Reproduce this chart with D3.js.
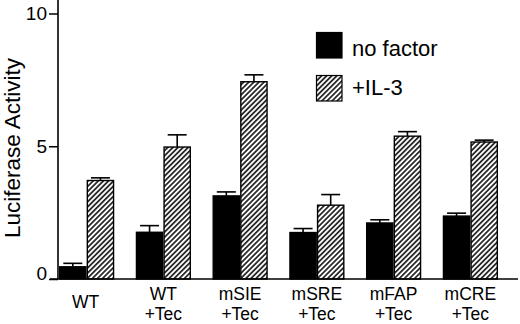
<!DOCTYPE html>
<html><head><meta charset="utf-8">
<script src="https://cdn.jsdelivr.net/npm/d3@7"></script>
<style>
html,body{margin:0;padding:0;background:#fff;}
svg{display:block;font-family:"Liberation Sans",Arial,Helvetica,sans-serif;}
</style></head>
<body>
<svg id="chart" width="520" height="324"></svg>
<script>
const categories = ["WT", "WT+Tec", "mSIE+Tec", "mSRE+Tec", "mFAP+Tec", "mCRE+Tec"];
const categoryLines = [["WT"], ["WT", "+Tec"], ["mSIE", "+Tec"], ["mSRE", "+Tec"], ["mFAP", "+Tec"], ["mCRE", "+Tec"]];
const seriesNames = ["no factor", "+IL-3"];
const noFactor = [0.46, 1.76, 3.13, 1.75, 2.11, 2.37];
const noFactorErr = [0.13, 0.25, 0.15, 0.15, 0.12, 0.11];
const il3 = [3.71, 4.97, 7.43, 2.78, 5.38, 5.16];
const il3Err = [0.10, 0.46, 0.26, 0.40, 0.17, 0.07];
const yTicks = [0, 5, 10];

const svg = d3.select("#chart");
const defs = svg.append("defs");
const pat = defs.append("pattern").attr("id", "hatch")
  .attr("patternUnits", "userSpaceOnUse").attr("width", 3.6).attr("height", 3.6)
  .attr("patternTransform", "rotate(45)");
pat.append("rect").attr("width", 3.6).attr("height", 3.6).attr("fill", "#fff");
pat.append("line").attr("x1", 0.9).attr("y1", 0).attr("x2", 0.9).attr("y2", 3.6)
  .attr("stroke", "#000").attr("stroke-width", 1.5);

const y = d3.scaleLinear().domain([0, 10]).range([279, 13.5]);
const x0 = d3.scaleBand().domain(categories).range([59, 498]).paddingInner(0.28).paddingOuter(0);
const x1 = d3.scaleBand().domain(seriesNames).range([0, x0.bandwidth()]);

const rows = categories.map((c, i) => ({
  cat: c,
  vals: [
    {s: seriesNames[0], v: noFactor[i], e: noFactorErr[i]},
    {s: seriesNames[1], v: il3[i], e: il3Err[i]}
  ]
}));
const fills = {"no factor": "#000", "+IL-3": "url(#hatch)"};

const g = svg.selectAll("g.grp").data(rows).join("g").attr("class", "grp")
  .attr("transform", d => `translate(${x0(d.cat)},0)`);
const eb = g.selectAll("g.err").data(d => d.vals).join("g").attr("class", "err");
eb.append("line")
  .attr("x1", d => x1(d.s) + x1.bandwidth() / 2).attr("x2", d => x1(d.s) + x1.bandwidth() / 2)
  .attr("y1", d => y(d.v)).attr("y2", d => y(d.v + d.e))
  .attr("stroke", "#000").attr("stroke-width", 1.6);
eb.append("line")
  .attr("x1", d => x1(d.s) + x1.bandwidth() / 2 - 9.5).attr("x2", d => x1(d.s) + x1.bandwidth() / 2 + 9.5)
  .attr("y1", d => y(d.v + d.e)).attr("y2", d => y(d.v + d.e))
  .attr("stroke", "#000").attr("stroke-width", 1.6);

g.selectAll("rect.bar").data(d => d.vals).join("rect").attr("class", "bar")
  .attr("x", d => x1(d.s) + 0.7).attr("width", x1.bandwidth() - 1.4)
  .attr("y", d => y(d.v)).attr("height", d => y(0) - y(d.v))
  .attr("fill", d => fills[d.s]).attr("stroke", "#000").attr("stroke-width", 1.4);

svg.append("line").attr("x1", 50).attr("x2", 518).attr("y1", y(0)).attr("y2", y(0))
  .attr("stroke", "#000").attr("stroke-width", 1.6);
const yAxis = svg.append("g").attr("transform", "translate(58,0)")
  .call(d3.axisLeft(y).tickValues(yTicks).tickSize(9).tickPadding(2).tickSizeOuter(0));
yAxis.select(".domain").remove();
yAxis.append("line").attr("x1", 0).attr("x2", 0).attr("y1", 0).attr("y2", y(0))
  .attr("stroke", "#000").attr("stroke-width", 1.6);
yAxis.selectAll(".tick line").attr("stroke-width", 1.5);
yAxis.selectAll(".tick text").attr("font-size", 19).attr("fill", "#000")
  .attr("font-family", "'Liberation Sans',Arial,sans-serif");
yAxis.selectAll(".tick").filter(d => d === 0).select("text").attr("dy", "0.05em");

svg.append("text").attr("transform", `translate(20,148) rotate(-90)`)
  .attr("text-anchor", "middle").attr("font-size", 22.5).text("Luciferase Activity");

const xl = svg.selectAll("text.xl").data(categories).join("text").attr("class", "xl")
  .attr("text-anchor", "middle").attr("font-size", 17.5)
  .attr("x", d => x0(d) + x0.bandwidth() / 2);
xl.each(function(d, i) {
  const lines = categoryLines[i];
  const t = d3.select(this);
  if (lines.length === 1) {
    t.append("tspan").attr("x", x0(d) + x0.bandwidth() / 2 - 1).attr("y", 308).text(lines[0]);
  } else {
    lines.forEach((l, j) => t.append("tspan").attr("x", x0(d) + x0.bandwidth() / 2).attr("y", 300 + j * 20).text(l));
  }
});

const leg = svg.selectAll("g.leg").data(seriesNames).join("g").attr("class", "leg")
  .attr("transform", (d, i) => `translate(316,${32 + i * 43})`);
leg.append("rect").attr("x", 0.5).attr("y", 0.5).attr("width", 25.5).attr("height", 25.5)
  .attr("fill", d => fills[d]).attr("stroke", "#000").attr("stroke-width", 1.2);
leg.append("text").attr("x", 36).attr("y", (d, i) => i === 0 ? 23.5 : 20)
  .attr("font-size", 22).text(d => d);
</script>
</body></html>
